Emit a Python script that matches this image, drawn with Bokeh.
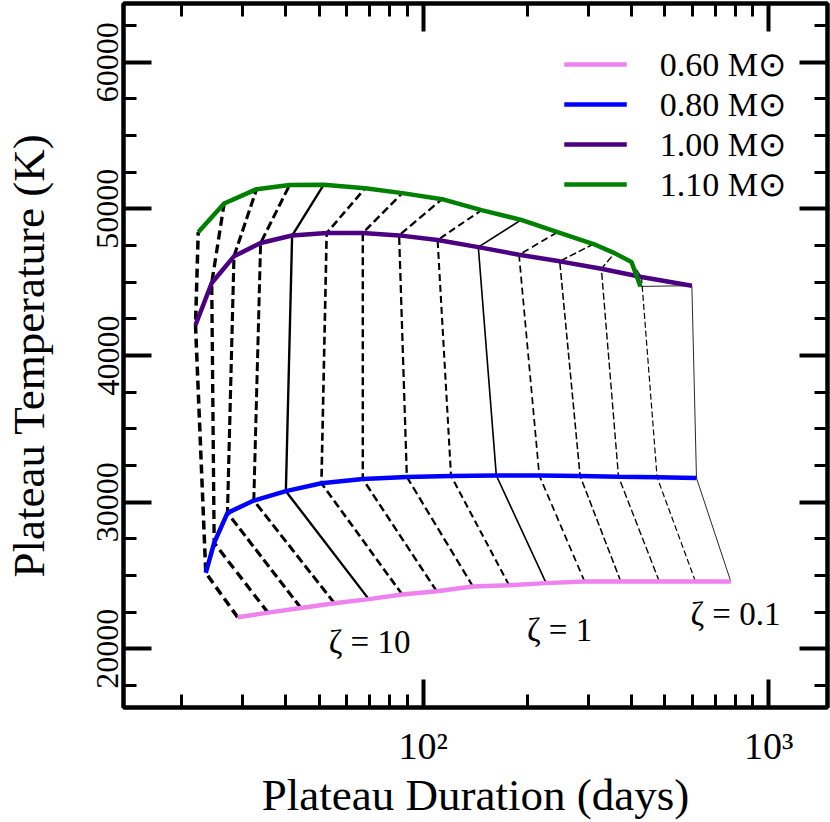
import numpy as np
from bokeh.plotting import figure
from bokeh.models import (LogAxis, LinearAxis, FixedTicker, Legend, LegendItem,
                          Label, Range1d)
from bokeh.embed import file_html
from bokeh.resources import INLINE

# ---------------- data ----------------
zeta = [63.1, 39.8, 25.1, 15.8, 10.0, 6.31, 3.98, 2.51, 1.58, 1.0,
        0.631, 0.398, 0.251, 0.158, 0.1]

mass_labels = ["0.60", "0.80", "1.00", "1.10"]
mass_colors = ["violet", "blue", "indigo", "green"]

dur_060 = [29.0, 35.5, 44.2, 55.3, 69.5, 86.9, 109.3, 139.2, 177.1, 226.8,
           293.1, 373.0, 482.3, 613.8, 776.8]
temp_060 = [22160, 22470, 22790, 23110, 23390, 23700, 23930, 24250, 24340,
            24480, 24590, 24590, 24590, 24590, 24590]

dur_080 = [23.45, 24.8, 27.1, 32.3, 40.0, 50.7, 66.8, 89.6, 120.3, 162.7,
           216.7, 284.4, 367.4, 475.2, 617.9]
temp_080 = [25180, 27220, 29270, 30110, 30750, 31290, 31580, 31720, 31790,
            31820, 31810, 31790, 31740, 31700, 31650]

dur_100 = [21.9, 24.4, 28.3, 33.8, 41.7, 52.5, 66.8, 85.1, 110.0, 144.3,
           189.3, 248.3, 327.8, 428.2, 599.2]
temp_100 = [42080, 44940, 46760, 47670, 48180, 48350, 48350, 48190, 47870,
            47390, 46870, 46420, 45910, 45350, 44760]

dur_110 = [22.3, 26.5, 32.9, 41.0, 51.5, 67.9, 86.9, 113.3, 147.4, 192.1,
           244.7, 311.0, 357.7, 400.6, 425.4]
temp_110 = [48410, 50360, 51340, 51620, 51650, 51410, 51070, 50660, 49910,
            49250, 48410, 47600, 46980, 46370, 44710]

x_major_ticks = [100, 1000]
x_minor_ticks = [20, 30, 40, 50, 60, 70, 80, 90,
                 200, 300, 400, 500, 600, 700, 800, 900]
x_tick_labels = {100: "10\u00b2", 1000: "10\u00b3"}
y_major_ticks = [20000, 30000, 40000, 50000, 60000]
y_minor_ticks = [17500, 22500, 25000, 27500, 32500, 35000, 37500, 42500,
                 45000, 47500, 52500, 55000, 57500, 62500]

zeta_label_text = ["\u03b6 = 10", "\u03b6 = 1", "\u03b6 = 0.1"]
zeta_label_x = [69.9, 248.0, 801.0]
zeta_label_y = [20500, 21300, 22380]

# ---------------- figure ----------------
FONT = "'Liberation Serif', serif"

p = figure(width=830, height=822, x_axis_type="log",
           x_range=Range1d(13.55, 1480), y_range=Range1d(16000, 64000),
           output_backend="svg", toolbar_location=None,
           min_border_left=123, min_border_right=3, min_border_top=3,
           min_border_bottom=108)

p.xgrid.visible = False
p.ygrid.visible = False
p.outline_line_color = "black"
p.outline_line_width = 4
p.background_fill_color = "white"
p.border_fill_color = "white"

xt = FixedTicker(ticks=x_major_ticks, minor_ticks=x_minor_ticks)
yt = FixedTicker(ticks=y_major_ticks, minor_ticks=y_minor_ticks)


def style_axis(ax, show_labels):
    ax.axis_line_width = 4
    ax.axis_line_color = "black"
    ax.major_tick_in = 28
    ax.major_tick_out = 0
    ax.minor_tick_in = 13
    ax.minor_tick_out = 0
    ax.major_tick_line_width = 4
    ax.minor_tick_line_width = 3
    ax.major_tick_line_color = "black"
    ax.minor_tick_line_color = "black"
    ax.major_label_text_color = "black"
    ax.axis_label_text_color = "black"
    if not show_labels:
        ax.major_label_text_alpha = 0
        ax.major_label_text_font_size = "2px"
        ax.major_label_standoff = 0


xax = p.xaxis[0]
xax.ticker = xt
xax.major_label_overrides = x_tick_labels
style_axis(xax, True)
xax.major_label_text_font = FONT
xax.major_label_text_font_size = "38px"
xax.major_label_standoff = 17
xax.axis_label = "Plateau Duration (days)"
xax.axis_label_text_font = FONT
xax.axis_label_text_font_size = "45px"
xax.axis_label_text_font_style = "normal"
xax.axis_label_standoff = 0

yax = p.yaxis[0]
yax.ticker = yt
style_axis(yax, True)
yax.major_label_orientation = "vertical"
yax.major_label_text_font = FONT
yax.major_label_text_font_size = "32px"
yax.major_label_standoff = 5
yax.axis_label = "Plateau Temperature (K)"
yax.axis_label_text_font = FONT
yax.axis_label_text_font_size = "45px"
yax.axis_label_text_font_style = "normal"
yax.axis_label_text_line_height = 0.9
yax.axis_label_standoff = 41

top = LogAxis(ticker=xt)
style_axis(top, False)
p.add_layout(top, "above")
right = LinearAxis(ticker=yt)
style_axis(right, False)
p.add_layout(right, "right")

# ---------------- constant-zeta lines ----------------
curves_x = [dur_060, dur_080, dur_100, dur_110]
curves_y = [temp_060, temp_080, temp_100, temp_110]
n = len(zeta)
for i in range(n):
    xs = [c[i] for c in curves_x]
    ys = [c[i] for c in curves_y]
    w = 1.0 + 0.18 * (n - 1 - i)
    solid = abs(np.log10(zeta[i]) - round(np.log10(zeta[i]))) < 1e-3
    if solid:
        p.line(xs, ys, line_color="black", line_width=w * 0.85)
    else:
        dash = "%d %d" % (round(5 + 1.2 * w), round(2.5 + 0.6 * w))
        p.line(xs, ys, line_color="black", line_width=w, line_dash=dash)

# ---------------- mass curves ----------------
items = []
for lab, col, xs, ys in zip(mass_labels, mass_colors, curves_x, curves_y):
    r = p.line(xs, ys, line_color=col, line_width=4.5)
    items.append(LegendItem(label=lab + " M\u2299", renderers=[r]))

legend = Legend(items=items, location="top_right")
legend.label_text_font = FONT
legend.label_text_font_size = "34px"
legend.label_text_color = "black"
legend.glyph_width = 63
legend.glyph_height = 30
legend.label_standoff = 33
legend.spacing = 0
legend.padding = 0
legend.margin = 41
legend.border_line_alpha = 0
legend.background_fill_alpha = 0
p.add_layout(legend)

for t, lx, ly in zip(zeta_label_text, zeta_label_x, zeta_label_y):
    p.add_layout(Label(x=lx, y=ly, text=t, text_font=FONT,
                       text_font_size="33px", text_align="center",
                       text_baseline="middle", text_color="black"))

open("out.html", "w").write(file_html(p, INLINE))
